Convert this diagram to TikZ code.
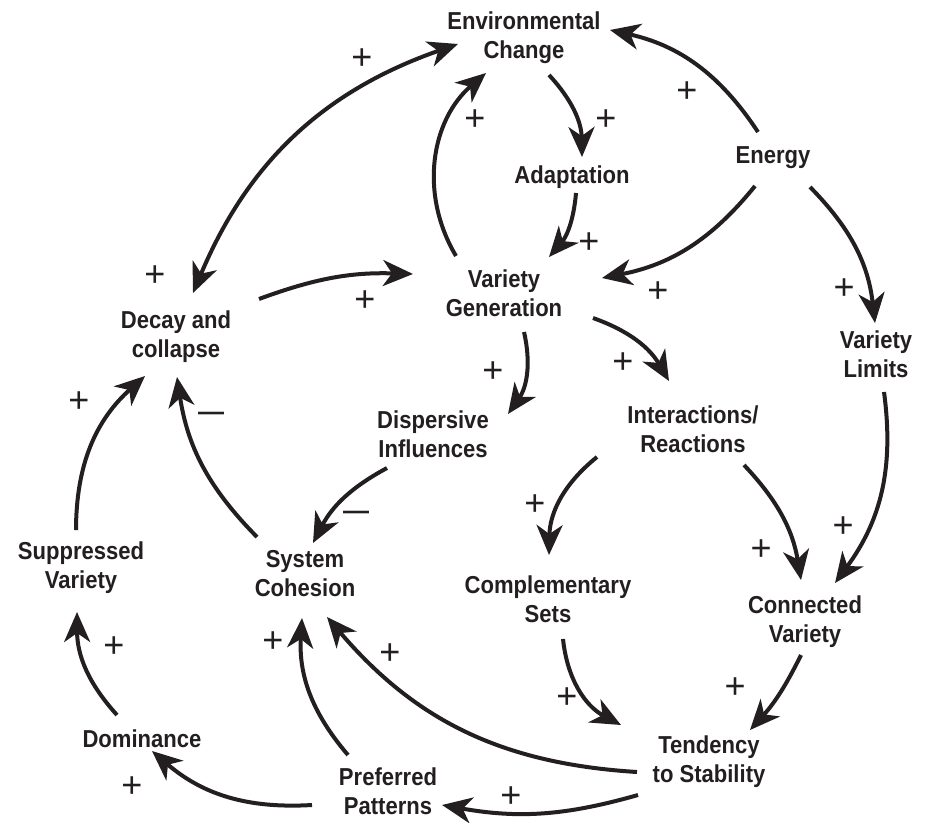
\documentclass[tikz,border=0pt]{standalone}
\usepackage{fontspec}
\usetikzlibrary{arrows.meta}
\newfontfamily\lblfont[FakeStretch=0.9]{Liberation Sans}
\newfontfamily\signfont{Liberation Sans}
\definecolor{ink}{HTML}{231F20}
\tikzset{
  concept/.style={font={\lblfont\bfseries\fontsize{24.5pt}{29pt}\selectfont}, text=ink, align=center, inner sep=2pt, anchor=base},
  tip/.tip={Stealth[length=30pt,width=26pt,inset=9pt]},
  link/.style={draw=ink, line width=4pt, -tip},
  duallink/.style={draw=ink, line width=4pt, tip-tip},
  plus/.style={font={\signfont\fontsize{36pt}{36pt}\selectfont}, text=ink, inner sep=0pt, yshift=-2pt},
  minus/.style={font={\signfont\bfseries\fontsize{26pt}{26pt}\selectfont}, text=ink, inner sep=0pt},
}
\begin{document}
\begin{tikzpicture}[x=1pt,y=-1pt]
\path[fill=white,use as bounding box] (0,0) rectangle (928,822);
% concepts (anchor = baseline of last line)
\node[concept] (env) at (524,58) {Environmental\\Change};
\node[concept] (adapt) at (572,183) {Adaptation};
\node[concept] (energy) at (773,163) {Energy};
\node[concept] (vg) at (504,316) {Variety\\Generation};
\node[concept] (dec) at (176,357) {Decay and\\collapse};
\node[concept] (vl) at (876,377) {Variety\\Limits};
\node[concept] (disp) at (433,457) {Dispersive\\Influences};
\node[concept] (inter) at (693,452) {Interactions/\\Reactions};
\node[concept] (supp) at (81,588) {Suppressed\\Variety};
\node[concept] (sys) at (305,596) {System\\Cohesion};
\node[concept] (comp) at (548,622) {Complementary\\Sets};
\node[concept] (conn) at (805,642) {Connected\\Variety};
\node[concept] (dom) at (142,747) {Dominance};
\node[concept] (tend) at (709,782) {Tendency\\to Stability};
\node[concept] (pref) at (388,814) {Preferred\\Patterns};
% connectors
\draw[duallink] ([shift={(17,-64)}]dec.base) to[bend left=24] ([shift={(-66,-14)}]env.base);
\draw[link] ([shift={(-15,-31)}]energy.base) to[bend right=22] ([shift={(86,-28)}]env.base);
\draw[link] ([shift={(-48,-60)}]vg.base) to[bend left=40] ([shift={(-38,15)}]env.base);
\draw[link] ([shift={(25,17)}]env.base) to[bend left=21] ([shift={(10,-26)}]adapt.base);
\draw[link] ([shift={(4,10)}]adapt.base) to[bend left=18] ([shift={(45,-59)}]vg.base);
\draw[link] ([shift={(-18,23)}]energy.base) to[bend left=20] ([shift={(98,-38)}]vg.base);
\draw[link] ([shift={(37,24)}]energy.base) to[bend left=19] ([shift={(-1,-54)}]vl.base);
\draw[link] ([shift={(83,-58)}]dec.base) to[bend left=11] ([shift={(-91,-42)}]vg.base);
\draw[link] ([shift={(20,16)}]vg.base) to[bend left=24] ([shift={(75,-43)}]disp.base);
\draw[link] ([shift={(89,2)}]vg.base) to[bend left=20] ([shift={(-24,-71)}]inter.base);
\draw[link] ([shift={(-46,11)}]disp.base) to[bend right=17] ([shift={(8,-53)}]sys.base);
\draw[link] ([shift={(-48,-59)}]sys.base) to[bend left=18] ([shift={(1,20)}]dec.base);
\draw[link] ([shift={(-5,-58)}]supp.base) to[bend left=24] ([shift={(-31,19)}]dec.base);
\draw[link] ([shift={(-25,-32)}]dom.base) to[bend left=21] ([shift={(-4,24)}]supp.base);
\draw[link] ([shift={(-76,-9)}]pref.base) to[bend left=22] ([shift={(10,4)}]dom.base);
\draw[link] ([shift={(-40,-59)}]pref.base) to[bend left=22] ([shift={(-3,22)}]sys.base);
\draw[link] ([shift={(-72,-10)}]tend.base) to[bend left=23] ([shift={(22,21)}]sys.base);
\draw[link] ([shift={(-71,13)}]tend.base) to[bend left=13] ([shift={(54,-9)}]pref.base);
\draw[link] ([shift={(-96,5)}]inter.base) to[bend right=25] ([shift={(1,-67)}]comp.base);
\draw[link] ([shift={(51,13)}]inter.base) to[bend left=17] ([shift={(-4,-62)}]conn.base);
\draw[link] ([shift={(8,15)}]vl.base) to[bend left=22] ([shift={(30,-59)}]conn.base);
\draw[link] ([shift={(15,17)}]comp.base) to[bend right=28] ([shift={(-88,-57)}]tend.base);
\draw[link] ([shift={(-4,13)}]conn.base) to[bend left=8] ([shift={(41,-52)}]tend.base);
% polarity signs
\node[plus] (s1) at (362,57) {+};
\node[plus] (s2) at (155,274) {+};
\node[plus] (s3) at (687,90) {+};
\node[plus] (s4) at (475,118) {+};
\node[plus] (s5) at (606,118) {+};
\node[plus] (s6) at (589,241) {+};
\node[plus] (s7) at (658,290) {+};
\node[plus] (s8) at (844,287) {+};
\node[plus] (s9) at (365,299) {+};
\node[plus] (s10) at (493,370) {+};
\node[plus] (s11) at (623,361) {+};
\node[minus] (s12) at (356,515) {—};
\node[minus] (s13) at (211,416) {—};
\node[plus] (s14) at (79,400) {+};
\node[plus] (s15) at (114,645) {+};
\node[plus] (s16) at (132,785) {+};
\node[plus] (s17) at (273,640) {+};
\node[plus] (s18) at (390,652) {+};
\node[plus] (s19) at (511,795) {+};
\node[plus] (s20) at (535,503) {+};
\node[plus] (s21) at (761,548) {+};
\node[plus] (s22) at (843,525) {+};
\node[plus] (s23) at (567,696) {+};
\node[plus] (s24) at (735,686) {+};
\end{tikzpicture}
\end{document}
